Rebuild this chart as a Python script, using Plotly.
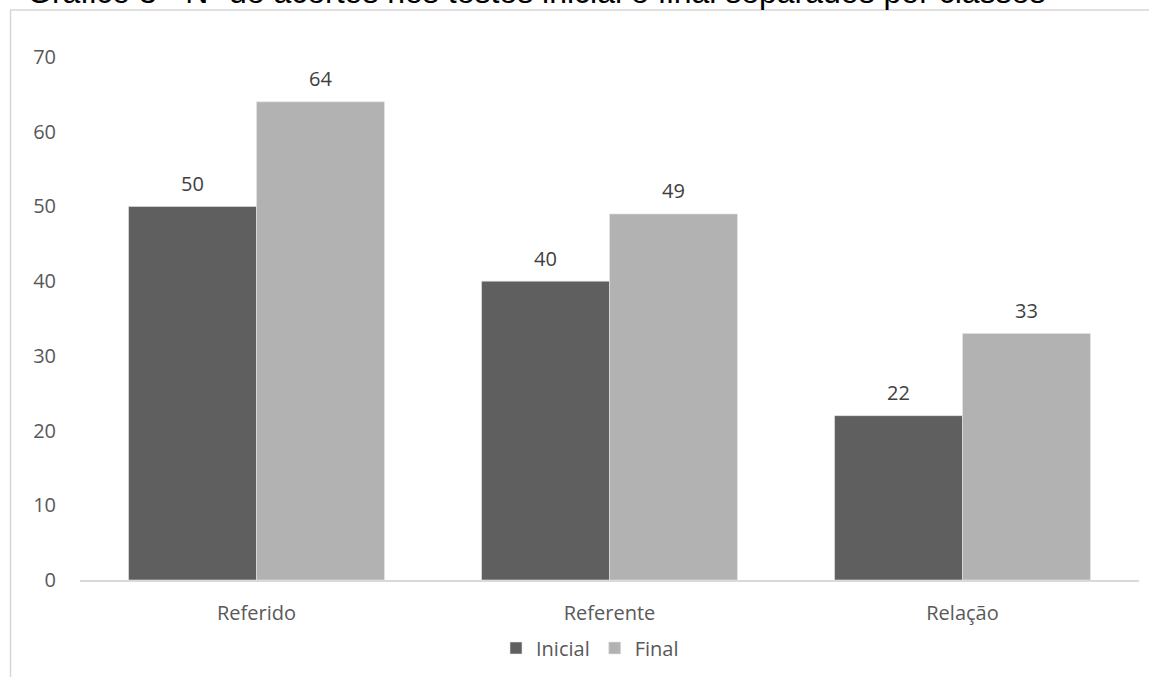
import plotly.graph_objects as go

categories = ["Referido", "Referente", "Relação"]
inicial = [50, 40, 22]
final = [64, 49, 33]
y_ticks = [0, 10, 20, 30, 40, 50, 60, 70]
title_text = "Gráfico 3 - Nº de acertos nos testes inicial e final separados por classes"

W, H = 1149, 677
ml, mr, mt, mb = 80, 10, 57, 97
pw, ph = W - ml - mr, H - mt - mb

def px_x(p):
    return (p - ml) / pw

def px_y(p):
    return (H - mb - p) / ph

font_fam = "Open Sans, Segoe UI, DejaVu Sans, sans-serif"
label_color = "#404040"
bar_half = 64

fig = go.Figure()
fig.add_trace(go.Bar(name="Inicial", x=categories, y=inicial, marker_color="#5f5f5f",
                     marker_line=dict(color="#e6e6e6", width=0.6)))
fig.add_trace(go.Bar(name="Final", x=categories, y=final, marker_color="#b2b2b2",
                     marker_line=dict(color="#e6e6e6", width=0.6)))

annotations = []
for cat, v in zip(categories, inicial):
    annotations.append(dict(x=cat, y=v, xref="x", yref="y", text=str(v), showarrow=False,
                            xshift=-bar_half, yshift=23, yanchor="middle",
                            font=dict(size=20, color=label_color, family=font_fam)))
for cat, v in zip(categories, final):
    annotations.append(dict(x=cat, y=v, xref="x", yref="y", text=str(v), showarrow=False,
                            xshift=bar_half, yshift=23, yanchor="middle",
                            font=dict(size=20, color=label_color, family=font_fam)))
annotations.append(dict(x=px_x(25), y=px_y(-8), xref="paper", yref="paper", text=title_text,
                        showarrow=False, xanchor="left", yanchor="middle",
                        font=dict(family="Liberation Sans, Arial, sans-serif", size=32,
                                  color="#000000")))

fig.update_layout(
    width=W, height=H,
    margin=dict(l=ml, r=mr, t=mt, b=mb),
    paper_bgcolor="white", plot_bgcolor="white",
    barmode="group", bargap=0.275, bargroupgap=0,
    font=dict(family=font_fam, color="#595959", size=20),
    showlegend=True,
    legend=dict(orientation="h", x=px_x(590), xanchor="center", y=px_y(648), yanchor="middle",
                font=dict(size=20, color="#595959"), itemwidth=30, traceorder="normal",
                itemclick=False),
    xaxis=dict(showline=True, linecolor="#d9d9d9", linewidth=1.5, ticks="",
               ticklabelstandoff=14,
               tickfont=dict(size=20, color="#595959"), showgrid=False),
    yaxis=dict(range=[0, 70], tickvals=y_ticks, showgrid=False, showline=False,
               zeroline=False, ticks="", ticklabelstandoff=23,
               tickfont=dict(size=20, color="#595959")),
    annotations=annotations,
    shapes=[
        dict(type="line", xref="paper", yref="paper",
             x0=px_x(10), x1=px_x(1160), y0=px_y(10), y1=px_y(10),
             line=dict(color="#d6d6d6", width=1.5), layer="below"),
        dict(type="line", xref="paper", yref="paper",
             x0=px_x(10.5), x1=px_x(10.5), y0=px_y(10), y1=px_y(700),
             line=dict(color="#d6d6d6", width=1.5), layer="below"),
    ],
)

fig.write_html("out.html")
